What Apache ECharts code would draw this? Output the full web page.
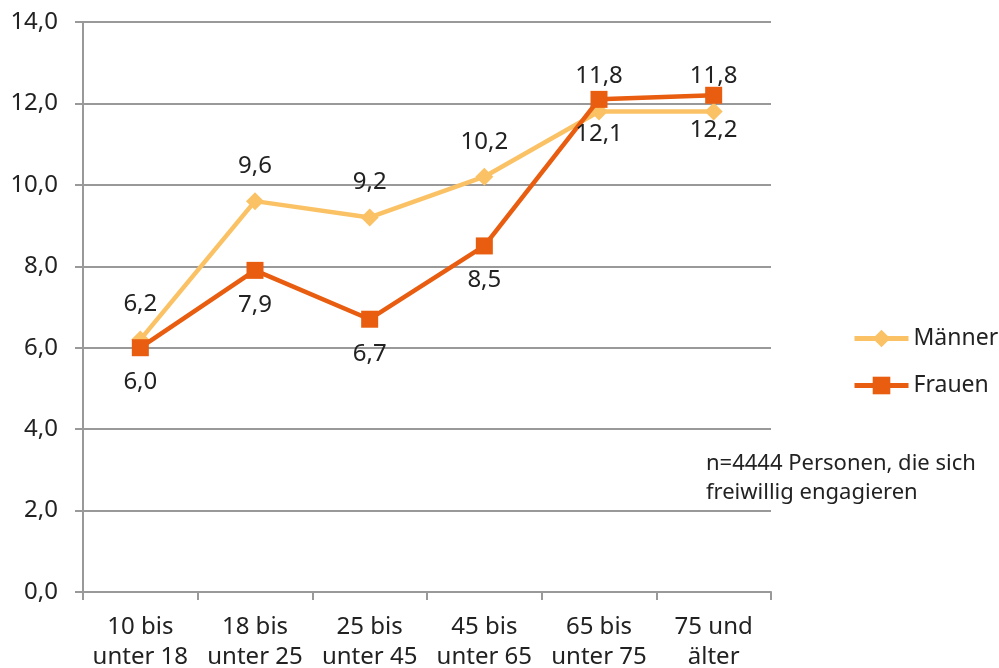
<!DOCTYPE html>
<html>
<head>
<meta charset="utf-8">
<script src="https://cdn.jsdelivr.net/npm/echarts@6/dist/echarts.min.js"></script>
<style>
  html, body { margin: 0; padding: 0; background: #fff; }
  #chart { width: 999px; height: 668px; }
</style>
</head>
<body>
<div id="chart"></div>
<script>
  var categories = ['10 bis\nunter 18', '18 bis\nunter 25', '25 bis\nunter 45', '45 bis\nunter 65', '65 bis\nunter 75', '75 und\nälter'];
  var maenner = [6.2, 9.6, 9.2, 10.2, 11.8, 11.8];
  var frauen = [6.0, 7.9, 6.7, 8.5, 12.1, 12.2];
  var note = 'n=4444 Personen, die sich\nfreiwillig engagieren';

  var fontFam = '"Noto Sans", "Open Sans", sans-serif';
  var textCol = '#222';
  var myChart = echarts.init(document.getElementById('chart'));

  function fmt(p) {
    return p.value.toFixed(1).replace('.', ',');
  }

  var option = {
    animation: false,
    textStyle: { fontFamily: fontFam },
    grid: { left: 83, right: 228, top: 22, bottom: 76, outerBoundsMode: 'none', containLabel: false },
    legend: {
      orient: 'vertical',
      left: 852,
      top: 327,
      padding: 0,
      itemWidth: 54,
      itemHeight: 22,
      itemGap: 24,
      lineStyle: { width: 5 },
      textStyle: { fontSize: 23, color: textCol },
      data: ['Männer', 'Frauen']
    },
    xAxis: {
      type: 'category',
      data: categories,
      boundaryGap: true,
      axisLine: { lineStyle: { color: '#999', width: 2 } },
      axisTick: { show: true, length: 8, lineStyle: { color: '#999', width: 2 } },
      axisLabel: { fontSize: 24, color: textCol, lineHeight: 30, margin: 20, interval: 0 },
      splitLine: { show: false }
    },
    yAxis: {
      type: 'value',
      min: 0,
      max: 14,
      interval: 2,
      axisLine: { show: true, lineStyle: { color: '#999', width: 2 } },
      axisTick: { show: true, length: 8, lineStyle: { color: '#999', width: 2 } },
      axisLabel: {
        fontSize: 24, color: textCol, margin: 25,
        formatter: function (v) { return v.toFixed(1).replace('.', ','); }
      },
      splitLine: { lineStyle: { color: '#999', width: 2 } }
    },
    series: [
      {
        name: 'Männer',
        type: 'line',
        data: maenner,
        symbol: 'diamond',
        symbolSize: 18,
        lineStyle: { color: '#FBC265', width: 4.5 },
        itemStyle: { color: '#FBC265' },
        label: {
          show: true, position: 'top', distance: 14,
          fontSize: 24, color: textCol, formatter: fmt
        },
        z: 2
      },
      {
        name: 'Frauen',
        type: 'line',
        data: frauen,
        symbol: 'rect',
        symbolSize: 17,
        lineStyle: { color: '#E85D0F', width: 4.5 },
        itemStyle: { color: '#E85D0F' },
        label: {
          show: true, position: 'bottom', distance: 14,
          fontSize: 24, color: textCol, formatter: fmt
        },
        z: 3
      }
    ],
    graphic: [
      {
        type: 'text',
        left: 706,
        top: 449,
        style: { text: note, font: '22px ' + fontFam, fill: textCol, lineHeight: 29 }
      }
    ]
  };
  option && myChart.setOption(option);
</script>
</body>
</html>
